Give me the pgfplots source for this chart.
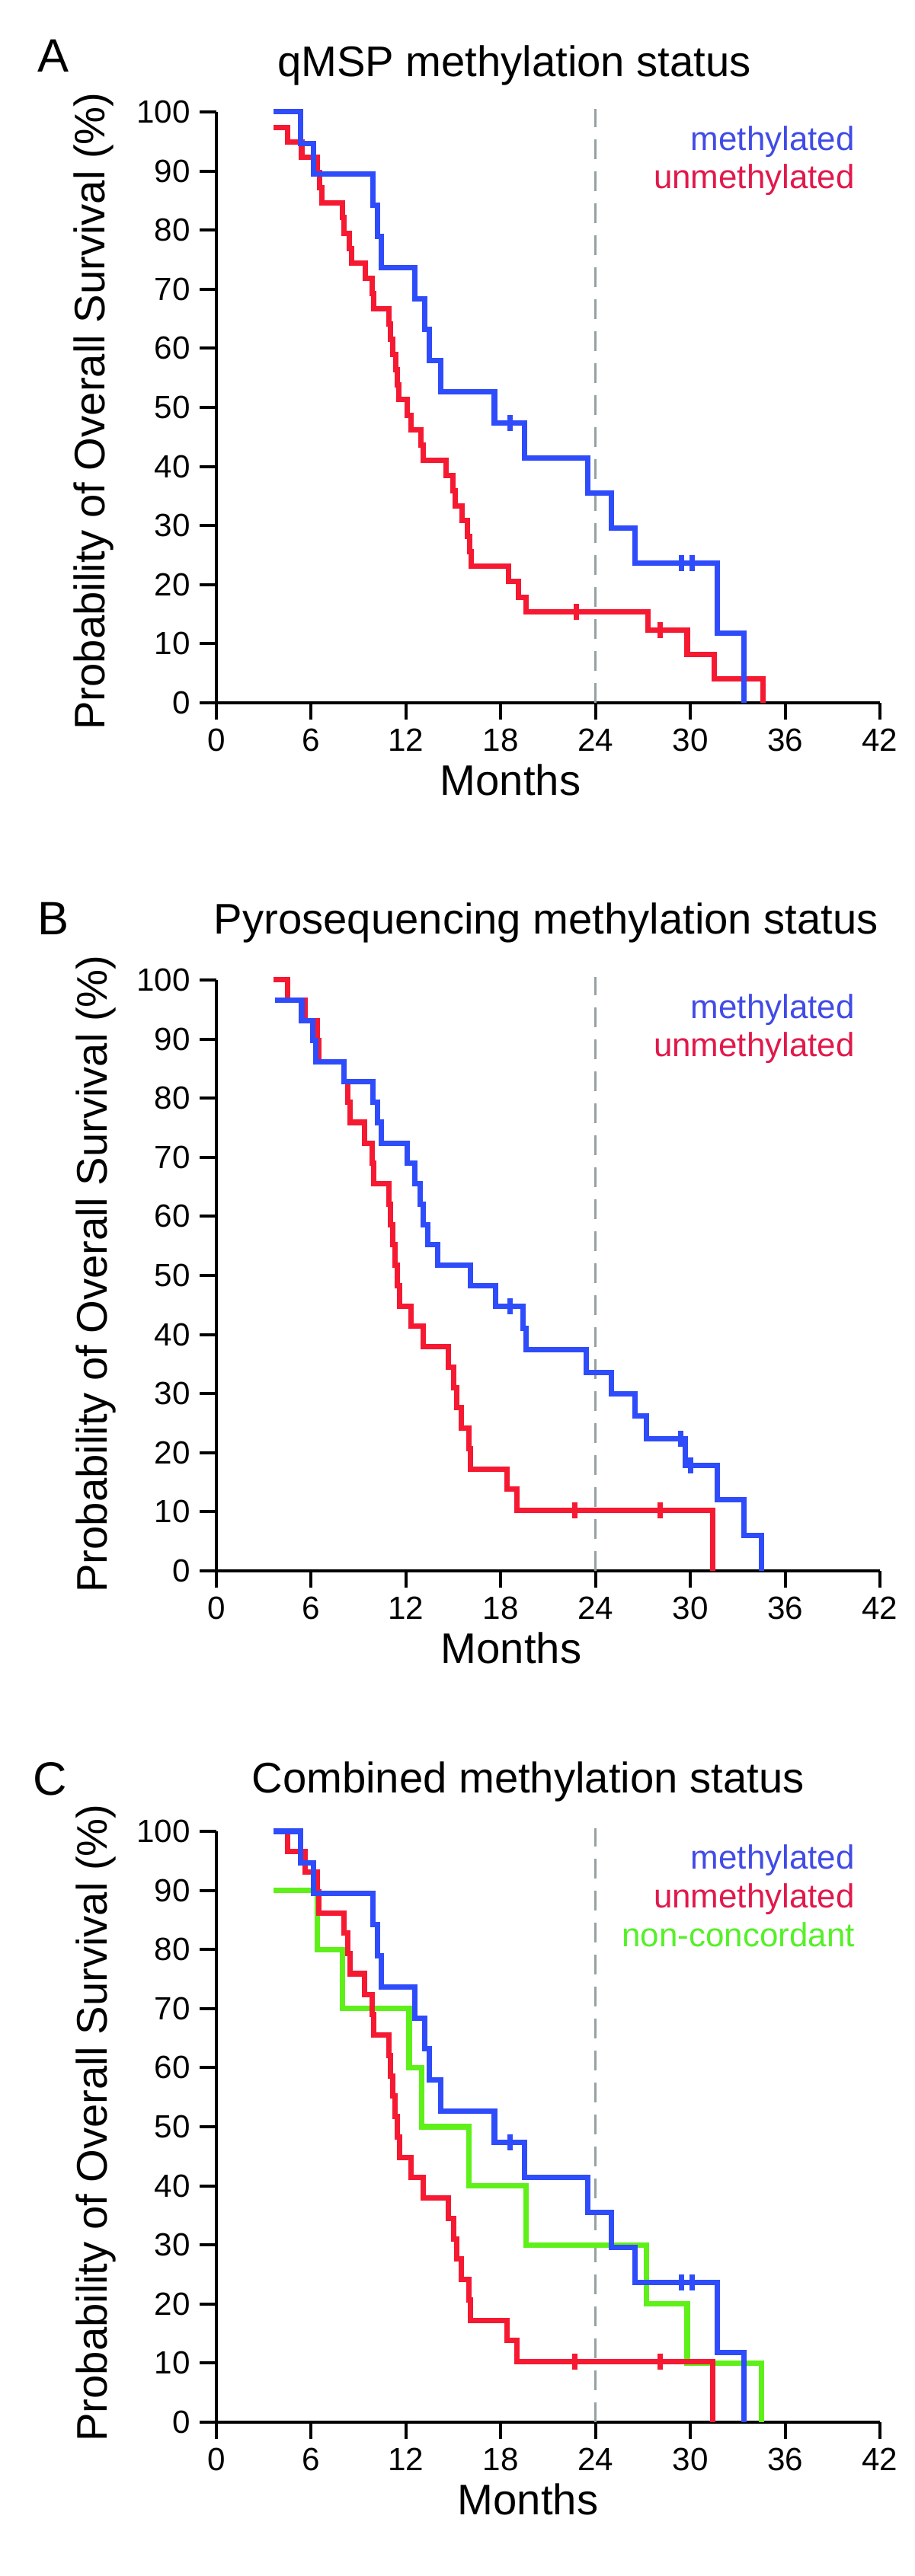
\documentclass[border=0pt]{standalone}
\usepackage{fontspec}
\setmainfont{Liberation Sans}
\usepackage{pgfplots}
\pgfplotsset{compat=1.18}

\definecolor{kmblue}{RGB}{47,76,250}
\definecolor{kmred}{RGB}{245,25,50}
\definecolor{kmgreen}{RGB}{95,240,25}
\definecolor{txtblue}{RGB}{65,75,230}
\definecolor{txtred}{RGB}{225,25,75}
\definecolor{txtgreen}{RGB}{85,240,40}
\definecolor{dashgray}{RGB}{150,162,162}

\pgfplotsset{
 kmaxis/.style={
  scale only axis, width=8.71cm, height=7.76cm,
  xmin=0, xmax=42, ymin=0, ymax=100,
  axis x line*=bottom, axis y line*=left,
  axis line style={line width=1.15pt, -},
  xtick={0,6,...,42}, ytick={0,10,...,100},
  tick align=outside, major tick length=0.22cm,
  tick style={black, line width=1.15pt},
  tick label style={font=\fontsize{12}{14}\selectfont},
  /pgf/number format/assume math mode=true,
  clip=false,
  anchor=south west,
 },
 km/.style={const plot, line width=2pt, no marks},
 cens/.style={only marks, mark=|, mark size=3pt, mark options={line width=2pt}},
 cutoff/.style={dashgray, line width=0.85pt, dash pattern=on 0.26cm off 0.16cm},
}
\newcommand{\legfont}{\fontsize{12.5}{15}\selectfont}
\newcommand{\labfont}{\fontsize{16}{19}\selectfont}

\begin{document}
\begin{tikzpicture}
\path[use as bounding box] (0,0) rectangle (12,33.83);

% ---------------- Panel A ----------------
\begin{axis}[kmaxis, at={(2.84cm,24.60cm)}]
\addplot[cutoff] coordinates {(24,0)(24,100.5)};
\addplot[km, kmred] coordinates {(3.6,97.4)(4.5,94.9)(5.4,92.3)(6.4,89.7)(6.55,87.2)(6.7,84.6)(8.0,82.1)(8.1,79.5)(8.4,76.9)(8.55,74.4)(9.45,71.8)(9.85,69.2)(9.95,66.7)(10.9,64.1)(11.0,61.5)(11.15,59.0)(11.35,56.4)(11.45,53.8)(11.55,51.3)(12.1,48.7)(12.3,46.2)(12.95,43.6)(13.1,41.0)(14.55,38.5)(14.95,35.9)(15.1,33.3)(15.55,30.8)(15.9,28.2)(16.05,25.6)(16.15,23.1)(18.5,20.5)(19.1,17.9)(19.6,15.4)(27.3,12.3)(29.8,8.2)(31.5,4.1)(34.6,0)};
\addplot[cens, kmred] coordinates {(22.8,15.4)(28.1,12.3)};
\addplot[km, kmblue] coordinates {(3.6,100)(5.35,94.7)(6.15,89.5)(9.9,84.2)(10.2,78.9)(10.45,73.7)(12.55,68.4)(13.2,63.2)(13.5,57.9)(14.2,52.6)(17.6,47.4)(19.5,41.4)(23.5,35.5)(25.0,29.6)(26.5,23.7)(31.7,11.8)(33.4,0)};
\addplot[cens, kmblue] coordinates {(18.6,47.4)(29.45,23.7)(30.1,23.7)};
\node[anchor=base east, text=txtblue, font=\legfont] at (axis cs:41,93.5) {methylated};
\node[anchor=base east, text=txtred, font=\legfont] at (axis cs:41,87.0) {unmethylated};
\end{axis}
\node[anchor=base west, font=\fontsize{17.5}{20}\selectfont] at (0.37,32.88) {A};
\node[anchor=base, font=\labfont] at (6.75,32.82) {qMSP methylation status};
\node[rotate=90, font=\labfont] at (1.23,28.43) {Probability of Overall Survival (\%)};
\node[anchor=base, font=\labfont] at (6.70,23.38) {Months};

% ---------------- Panel B ----------------
\begin{axis}[kmaxis, at={(2.84cm,13.20cm)}]
\addplot[cutoff] coordinates {(24,0)(24,100.5)};
\addplot[km, kmred] coordinates {(3.6,100)(4.5,96.6)(5.6,93.1)(6.4,89.7)(6.5,86.2)(8.1,82.8)(8.3,79.3)(8.45,75.9)(9.4,72.4)(9.85,69.0)(9.95,65.5)(10.9,62.1)(11.0,58.6)(11.15,55.2)(11.3,51.7)(11.45,48.3)(11.6,44.8)(12.3,41.4)(13.1,37.9)(14.7,34.5)(15.0,31.0)(15.2,27.6)(15.5,24.1)(16.0,20.7)(16.1,17.2)(18.4,13.8)(19.0,10.3)(31.4,0)};
\addplot[cens, kmred] coordinates {(22.7,10.3)(28.1,10.3)};
\addplot[km, kmblue] coordinates {(3.7,96.6)(5.4,93.1)(6.1,89.7)(6.3,86.2)(8.1,82.8)(9.9,79.3)(10.2,75.9)(10.45,72.4)(12.1,69.0)(12.55,65.5)(12.9,62.1)(13.1,58.6)(13.4,55.2)(14.0,51.7)(16.1,48.3)(17.65,44.8)(19.4,41.1)(19.6,37.4)(23.4,33.6)(25.0,29.9)(26.5,26.2)(27.2,22.4)(29.7,17.9)(31.7,12.0)(33.4,6.0)(34.5,0)};
\addplot[cens, kmblue] coordinates {(18.6,44.8)(29.4,22.4)(30.0,17.9)};
\node[anchor=base east, text=txtblue, font=\legfont] at (axis cs:41,93.5) {methylated};
\node[anchor=base east, text=txtred, font=\legfont] at (axis cs:41,87.0) {unmethylated};
\end{axis}
\node[anchor=base west, font=\fontsize{17.5}{20}\selectfont] at (0.37,21.55) {B};
\node[anchor=base, font=\labfont] at (7.17,21.56) {Pyrosequencing methylation status};
\node[rotate=90, font=\labfont] at (1.26,17.10) {Probability of Overall Survival (\%)};
\node[anchor=base, font=\labfont] at (6.71,11.98) {Months};

% ---------------- Panel C ----------------
\begin{axis}[kmaxis, at={(2.84cm,2.02cm)}]
\addplot[cutoff] coordinates {(24,0)(24,100.5)};
\addplot[km, kmgreen] coordinates {(3.6,90)(6.4,80)(8.0,70)(12.2,60)(13.0,50)(16.0,40)(19.6,30)(27.2,20)(29.8,10)(34.5,0)};
\addplot[km, kmred] coordinates {(3.6,100)(4.5,96.6)(5.6,93.1)(6.4,89.7)(6.5,86.2)(8.1,82.8)(8.3,79.3)(8.45,75.9)(9.4,72.4)(9.85,69.0)(9.95,65.5)(10.9,62.1)(11.0,58.6)(11.15,55.2)(11.3,51.7)(11.45,48.3)(11.6,44.8)(12.3,41.4)(13.1,37.9)(14.7,34.5)(15.0,31.0)(15.2,27.6)(15.5,24.1)(16.0,20.7)(16.1,17.2)(18.4,13.8)(19.0,10.3)(31.4,0)};
\addplot[cens, kmred] coordinates {(22.7,10.3)(28.1,10.3)};
\addplot[km, kmblue] coordinates {(3.6,100)(5.35,94.7)(6.15,89.5)(9.9,84.2)(10.2,78.9)(10.45,73.7)(12.55,68.4)(13.2,63.2)(13.5,57.9)(14.2,52.6)(17.6,47.4)(19.5,41.4)(23.5,35.5)(25.0,29.6)(26.5,23.7)(31.7,11.8)(33.4,0)};
\addplot[cens, kmblue] coordinates {(18.6,47.4)(29.45,23.7)(30.1,23.7)};
\node[anchor=base east, text=txtblue, font=\legfont] at (axis cs:41,93.6) {methylated};
\node[anchor=base east, text=txtred, font=\legfont] at (axis cs:41,87.1) {unmethylated};
\node[anchor=base east, text=txtgreen, font=\legfont] at (axis cs:41,80.5) {non-concordant};
\end{axis}
\node[anchor=base west, font=\fontsize{17.5}{20}\selectfont] at (0.31,10.25) {C};
\node[anchor=base, font=\labfont] at (6.93,10.28) {Combined methylation status};
\node[rotate=90, font=\labfont] at (1.26,5.95) {Probability of Overall Survival (\%)};
\node[anchor=base, font=\labfont] at (6.93,0.80) {Months};
\end{tikzpicture}
\end{document}
